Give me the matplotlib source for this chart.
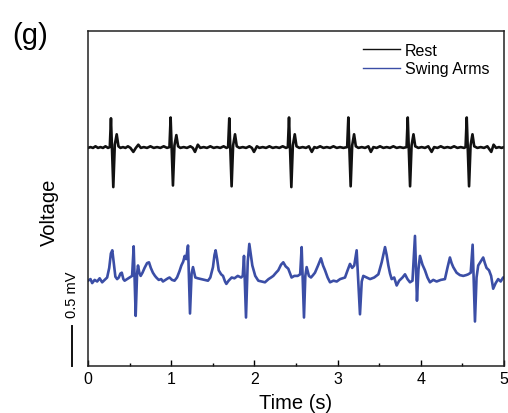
import matplotlib
matplotlib.use("Agg")
import matplotlib.pyplot as plt
import matplotlib.transforms as mtransforms
from matplotlib.ticker import MultipleLocator

plt.rcParams['font.family'] = ['Liberation Sans', 'DejaVu Sans']

# ---- data (time in s, voltage in mV) ----
t_rest = [0.000, 0.030, 0.060, 0.090, 0.120, 0.150, 0.180, 0.210, 0.240, 0.262,
          0.276, 0.304, 0.322, 0.345, 0.366, 0.390, 0.420, 0.450, 0.480, 0.510,
          0.545, 0.575, 0.605, 0.635, 0.670, 0.710, 0.750, 0.790, 0.830, 0.870,
          0.910, 0.950, 0.979, 0.993, 1.021, 1.039, 1.062, 1.083, 1.110, 1.150,
          1.190, 1.230, 1.260, 1.286, 1.320, 1.350, 1.390, 1.430, 1.470, 1.510,
          1.550, 1.590, 1.630, 1.665, 1.684, 1.698, 1.726, 1.744, 1.767, 1.788,
          1.820, 1.860, 1.900, 1.940, 1.970, 1.995, 2.030, 2.060, 2.100, 2.140,
          2.180, 2.220, 2.260, 2.300, 2.340, 2.380, 2.402, 2.416, 2.444, 2.462,
          2.485, 2.506, 2.540, 2.580, 2.620, 2.655, 2.690, 2.720, 2.750, 2.790,
          2.830, 2.870, 2.910, 2.950, 2.990, 3.030, 3.070, 3.115, 3.129, 3.157,
          3.175, 3.198, 3.219, 3.250, 3.290, 3.330, 3.370, 3.400, 3.430, 3.470,
          3.510, 3.550, 3.590, 3.630, 3.670, 3.710, 3.750, 3.790, 3.829, 3.843,
          3.871, 3.889, 3.912, 3.933, 3.970, 4.010, 4.050, 4.090, 4.130, 4.160,
          4.200, 4.240, 4.280, 4.320, 4.360, 4.400, 4.440, 4.480, 4.520, 4.538,
          4.552, 4.580, 4.598, 4.621, 4.642, 4.680, 4.720, 4.760, 4.800, 4.847,
          4.875, 4.905, 4.940, 4.970, 5.000]
v_rest = [2.72, 2.73, 2.72, 2.74, 2.72, 2.73, 2.72, 2.74, 2.72, 2.73,
          3.09, 2.23, 2.76, 2.89, 2.74, 2.72, 2.73, 2.72, 2.74, 2.72,
          2.67, 2.72, 2.76, 2.72, 2.73, 2.72, 2.74, 2.72, 2.73, 2.72,
          2.74, 2.72, 2.73, 3.10, 2.25, 2.75, 2.88, 2.74, 2.72, 2.73,
          2.72, 2.74, 2.72, 2.67, 2.76, 2.72, 2.73, 2.72, 2.74, 2.72,
          2.73, 2.72, 2.74, 2.72, 2.73, 3.09, 2.24, 2.75, 2.89, 2.74,
          2.72, 2.73, 2.72, 2.74, 2.72, 2.67, 2.74, 2.72, 2.73, 2.72,
          2.74, 2.72, 2.73, 2.72, 2.74, 2.72, 2.73, 3.10, 2.23, 2.75,
          2.89, 2.74, 2.72, 2.73, 2.72, 2.74, 2.67, 2.73, 2.72, 2.74,
          2.72, 2.73, 2.72, 2.74, 2.72, 2.73, 2.72, 2.73, 3.10, 2.24,
          2.75, 2.89, 2.74, 2.72, 2.73, 2.72, 2.74, 2.67, 2.73, 2.72,
          2.74, 2.72, 2.73, 2.72, 2.74, 2.72, 2.73, 2.72, 2.73, 3.10,
          2.24, 2.75, 2.89, 2.74, 2.72, 2.73, 2.72, 2.74, 2.67, 2.73,
          2.72, 2.74, 2.72, 2.73, 2.72, 2.74, 2.72, 2.73, 2.72, 2.73,
          3.10, 2.24, 2.75, 2.89, 2.74, 2.72, 2.73, 2.72, 2.74, 2.67,
          2.76, 2.72, 2.73, 2.72, 2.73]

t_swing = [0.000, 0.030, 0.050, 0.080, 0.110, 0.140, 0.170, 0.200, 0.230, 0.255,
           0.275, 0.292, 0.310, 0.329, 0.350, 0.370, 0.390, 0.406, 0.425, 0.440,
           0.470, 0.500, 0.530, 0.549, 0.573, 0.590, 0.601, 0.617, 0.633, 0.655,
           0.680, 0.710, 0.733, 0.755, 0.780, 0.805, 0.821, 0.850, 0.880, 0.901,
           0.930, 0.960, 0.980, 1.010, 1.040, 1.070, 1.100, 1.122, 1.145, 1.162,
           1.180, 1.202, 1.226, 1.245, 1.262, 1.290, 1.320, 1.362, 1.400, 1.442,
           1.470, 1.502, 1.520, 1.534, 1.552, 1.571, 1.600, 1.623, 1.647, 1.663,
           1.690, 1.727, 1.760, 1.800, 1.840, 1.860, 1.875, 1.899, 1.920, 1.939,
           1.955, 1.975, 2.010, 2.047, 2.090, 2.127, 2.170, 2.200, 2.227, 2.260,
           2.287, 2.320, 2.347, 2.375, 2.407, 2.447, 2.480, 2.520, 2.550, 2.568,
           2.596, 2.612, 2.628, 2.655, 2.680, 2.705, 2.728, 2.765, 2.800, 2.825,
           2.849, 2.880, 2.909, 2.950, 2.990, 3.030, 3.060, 3.089, 3.120, 3.149,
           3.175, 3.200, 3.229, 3.269, 3.290, 3.309, 3.350, 3.390, 3.440, 3.490,
           3.530, 3.570, 3.590, 3.610, 3.630, 3.650, 3.680, 3.710, 3.740, 3.780,
           3.810, 3.840, 3.870, 3.900, 3.930, 3.954, 3.972, 3.990, 4.020, 4.050,
           4.080, 4.110, 4.150, 4.190, 4.240, 4.290, 4.320, 4.350, 4.370, 4.390,
           4.430, 4.470, 4.510, 4.545, 4.570, 4.600, 4.623, 4.651, 4.670, 4.690,
           4.720, 4.750, 4.770, 4.790, 4.820, 4.845, 4.870, 4.900, 4.930, 4.960,
           4.990, 5.000]
v_swing = [1.06, 1.08, 1.03, 1.07, 1.05, 1.09, 1.04, 1.07, 1.10, 1.22,
           1.40, 1.44, 1.28, 1.11, 1.08, 1.10, 1.15, 1.16, 1.08, 1.06,
           1.08, 1.10, 1.12, 1.49, 0.62, 1.15, 1.25, 1.16, 1.12, 1.16,
           1.22, 1.28, 1.29, 1.22, 1.16, 1.12, 1.10, 1.07, 1.08, 1.05,
           1.07, 1.09, 1.10, 1.07, 1.06, 1.10, 1.18, 1.25, 1.30, 1.37,
           1.33, 1.50, 0.65, 1.15, 1.23, 1.10, 1.09, 1.08, 1.07, 1.06,
           1.10, 1.23, 1.38, 1.44, 1.33, 1.19, 1.14, 1.12, 1.05, 1.02,
           1.06, 1.10, 1.09, 1.12, 1.10, 1.12, 1.37, 0.60, 1.30, 1.52,
           1.40, 1.25, 1.12, 1.06, 1.05, 1.04, 1.08, 1.10, 1.12, 1.16,
           1.19, 1.26, 1.29, 1.24, 1.21, 1.10, 1.12, 1.12, 1.14, 1.48,
           0.60, 1.12, 1.23, 1.12, 1.10, 1.13, 1.16, 1.25, 1.34, 1.25,
           1.19, 1.10, 1.04, 1.06, 1.05, 1.08, 1.09, 1.10, 1.19, 1.27,
           1.22, 1.25, 1.44, 0.64, 1.05, 1.12, 1.10, 1.08, 1.10, 1.14,
           1.29, 1.48, 1.38, 1.25, 1.15, 1.08, 1.10, 1.00, 1.06, 1.10,
           1.14, 1.08, 1.04, 1.06, 1.62, 0.81, 1.20, 1.37, 1.26, 1.19,
           1.10, 1.04, 1.07, 1.05, 1.07, 1.08, 1.22, 1.35, 1.28, 1.23,
           1.16, 1.13, 1.12, 1.13, 1.14, 1.16, 1.51, 0.55, 1.10, 1.25,
           1.30, 1.35, 1.28, 1.22, 1.19, 1.12, 0.96, 1.03, 1.08, 1.05,
           1.10, 1.10]

series_labels = ["Rest", "Swing Arms"]
x_ticks = [0, 1, 2, 3, 4, 5]
scale_bar_mv = 0.5

# ---- figure ----
fig = plt.figure(figsize=(5.08, 4.14), dpi=100)
ax = fig.add_axes([88/508, 1 - 366.5/414, 416/508, 334.5/414])

ax.plot(t_rest, v_rest, color='#111111', lw=1.9, label=series_labels[0])
ax.plot(t_swing, v_swing, color='#3b4ea6', lw=1.9, label=series_labels[1])

ax.set_xlim(0, 5)
ax.set_ylim(0, 334.5/80)
ax.set_xticks(x_ticks)
ax.xaxis.set_minor_locator(MultipleLocator(0.5))
ax.set_yticks([])
ax.tick_params(axis='x', which='major', direction='in', length=4.5, width=1.0,
               labelsize=11.5, pad=4)
ax.tick_params(axis='x', which='minor', direction='in', length=2.5, width=1.0)
for s in ax.spines.values():
    s.set_linewidth(1.1)
    s.set_color('#222222')

ax.set_xlabel("Time (s)", fontsize=14.5, labelpad=5)
ax.text(-0.093, 0.462, "Voltage", transform=ax.transAxes, rotation=90,
        ha='center', va='center', fontsize=14.5)

# scale bar
trans = mtransforms.blended_transform_factory(ax.transAxes, ax.transData)
ax.plot([-0.0385, -0.0385], [0, scale_bar_mv], transform=trans, color='#111111',
        lw=1.4, clip_on=False)
ax.text(-0.0385, 0.6, "0.5 mV", transform=trans, rotation=90, ha='center',
        va='bottom', fontsize=10.5)

leg = ax.legend(loc='upper left', bbox_to_anchor=((363-88)/416, 1 - (44-32)/334.5),
                frameon=False, borderpad=0, borderaxespad=0, handlelength=2.3,
                handletextpad=0.3, labelspacing=0.2, fontsize=11.5)
for h in leg.get_lines():
    h.set_linewidth(1.0)

fig.text(12/508, 1 - 36/414, "(g)", fontsize=21, ha='left', va='center')

fig.savefig("out.png", dpi=100)
